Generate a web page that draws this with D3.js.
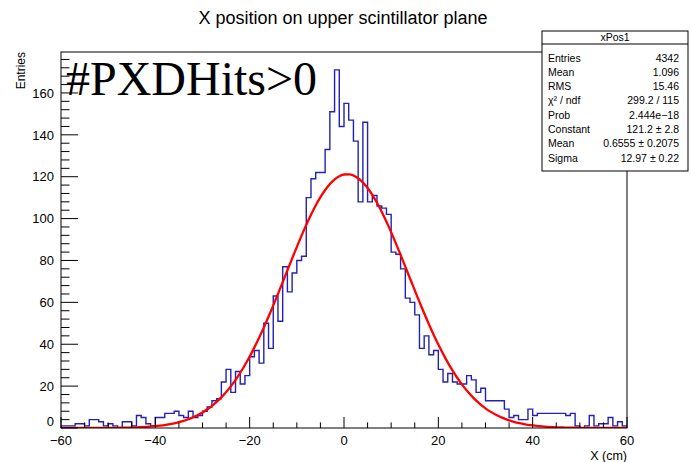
<!DOCTYPE html>
<html>
<head>
<meta charset="utf-8">
<script src="https://cdn.jsdelivr.net/npm/d3@7"></script>
<style>
  html, body { margin: 0; padding: 0; background: #fff; }
  svg { display: block; }
  text { font-family: "Liberation Sans", Arial, Helvetica, sans-serif; fill: #000; }
  text.serif { font-family: "Liberation Serif", "Times New Roman", serif; }
</style>
</head>
<body>
<svg id="chart" width="692" height="462"></svg>
<script>
// Histogram xPos1: 120 bins of 1 cm between -60 and 60 cm
const xRange = [-60, 60];
const nBins = 120;
const counts = [
  1, 1, 1, 2, 2, 1, 4, 4, 3, 1,      // -60 .. -51
  2, 1, 0, 3, 3, 1, 6, 5, 2, 1,      // -50 .. -41
  5, 5, 7, 7, 8, 6, 5, 8, 5, 6,      // -40 .. -31
  8, 10, 13, 14, 22, 28, 17, 27, 21, 25, // -30 .. -21
  34, 37, 31, 50, 38, 63, 51, 77, 65, 74, // -20 .. -11
  80, 82, 110, 119, 122, 122, 133, 151, 171, 144, // -10 .. -1
  155, 147, 137, 108, 146, 108, 111, 106, 105, 102, // 0 .. 9
  84, 83, 76, 62, 60, 54, 38, 44, 35, 37, // 10 .. 19
  28, 22, 26, 22, 21, 21, 25, 23, 17, 19, // 20 .. 29
  13, 13, 13, 13, 9, 5, 6, 4, 4, 9,  // 30 .. 39
  6, 7, 7, 7, 7, 7, 7, 6, 7, 1,      // 40 .. 49
  0, 1, 6, 1, 2, 2, 5, 1, 3, 1       // 50 .. 59
];

// Gaussian fit parameters (Constant, Mean, Sigma)
const fitConstant = [121.2];
const fitMean = [0.6555];
const fitSigma = [12.97];

// Statistics box rows
const statsLabels = ["Entries", "Mean", "RMS", "\u03C7\u00B2 / ndf", "Prob", "Constant", "Mean", "Sigma"];
const statsValues = ["4342", "1.096", "15.46", "299.2 / 115", "2.444e\u221218",
                     "121.2 \u00B1 2.8", "0.6555 \u00B1 0.2075", "12.97 \u00B1 0.22"];

const xTickValues = [-60, -40, -20, 0, 20, 40, 60];
const yTickValues = [0, 20, 40, 60, 80, 100, 120, 140, 160];

// Frame geometry
const frame = { left: 61, right: 627, top: 52, bottom: 428 };
const yMax = d3.max(counts) * 1.05;

const svg = d3.select("#chart");

const x = d3.scaleLinear().domain(xRange).range([frame.left, frame.right]);
const y = d3.scaleLinear().domain([0, yMax]).range([frame.bottom, frame.top]);

// Title
svg.append("text")
  .attr("x", 343).attr("y", 24)
  .attr("text-anchor", "middle")
  .attr("font-size", 18)
  .text("X position on upper scintillator plane");

// Clip for marks inside the frame
svg.append("defs").append("clipPath").attr("id", "frameClip")
  .append("rect")
  .attr("x", frame.left).attr("y", frame.top)
  .attr("width", frame.right - frame.left).attr("height", frame.bottom - frame.top);

// Histogram outline
const binWidth = (xRange[1] - xRange[0]) / nBins;
const histPts = [[xRange[0], 0]];
counts.forEach((c, i) => {
  const lo = xRange[0] + i * binWidth;
  histPts.push([lo, c], [lo + binWidth, c]);
});
histPts.push([xRange[1], 0]);

svg.append("path")
  .datum(histPts)
  .attr("clip-path", "url(#frameClip)")
  .attr("fill", "none")
  .attr("stroke", "#2222b0")
  .attr("stroke-width", 1.4)
  .attr("d", d3.line().x(d => x(d[0])).y(d => y(d[1])));

// Fitted gaussian, sampled at 100 points across the axis
const gaus = v => fitConstant[0] * Math.exp(-0.5 * Math.pow((v - fitMean[0]) / fitSigma[0], 2));
const fitPts = d3.range(0, 101).map(k => {
  const v = xRange[0] + k * (xRange[1] - xRange[0]) / 100;
  return [v, gaus(v)];
});
svg.append("path")
  .datum(fitPts)
  .attr("clip-path", "url(#frameClip)")
  .attr("fill", "none")
  .attr("stroke", "#ff0000")
  .attr("stroke-width", 2.3)
  .attr("stroke-linejoin", "round")
  .attr("d", d3.line().curve(d3.curveMonotoneX).x(d => x(d[0])).y(d => y(d[1])));

// Frame box
svg.append("rect")
  .attr("x", frame.left).attr("y", frame.top)
  .attr("width", frame.right - frame.left).attr("height", frame.bottom - frame.top)
  .attr("fill", "none").attr("stroke", "#000").attr("stroke-width", 1);

// X axis ticks (major every 20, minor every 5), drawn upward into the frame
const xMinor = d3.range(xRange[0], xRange[1] + 0.001, 5);
const xAxisG = svg.append("g");
xAxisG.selectAll("line").data(xMinor).enter().append("line")
  .attr("x1", d => x(d)).attr("x2", d => x(d))
  .attr("y1", frame.bottom).attr("y2", d => frame.bottom - (xTickValues.includes(d) ? 11 : 5.6))
  .attr("stroke", "#000").attr("stroke-width", 1);
xAxisG.selectAll("text").data(xTickValues).enter().append("text")
  .attr("x", d => x(d)).attr("y", 445)
  .attr("text-anchor", "middle")
  .attr("font-size", 13)
  .text(d => d < 0 ? "\u2212" + Math.abs(d) : String(d));

svg.append("text")
  .attr("x", frame.right).attr("y", 460)
  .attr("text-anchor", "end")
  .attr("font-size", 12.5)
  .text("X (cm)");

// Y axis ticks (major every 20, minor every 4), drawn rightward into the frame
const yMinor = d3.range(0, yMax, 4);
const yAxisG = svg.append("g");
yAxisG.selectAll("line").data(yMinor).enter().append("line")
  .attr("x1", frame.left).attr("x2", d => frame.left + (yTickValues.includes(d) ? 17 : 8.5))
  .attr("y1", d => y(d)).attr("y2", d => y(d))
  .attr("stroke", "#000").attr("stroke-width", 1);
// the zero label is lifted a little so it clears the x-axis labels
yAxisG.selectAll("text").data(yTickValues).enter().append("text")
  .attr("x", 54).attr("y", d => y(d) - (d === 0 ? 7 : 0))
  .attr("dy", "0.36em")
  .attr("text-anchor", "end")
  .attr("font-size", 13)
  .text(d => String(d));

svg.append("text")
  .attr("transform", `translate(25, ${frame.top}) rotate(-90)`)
  .attr("text-anchor", "end")
  .attr("font-size", 12)
  .text("Entries");

// Selection label
svg.append("text")
  .attr("class", "serif")
  .attr("x", 66).attr("y", 95)
  .attr("font-size", 48)
  .text("#PXDHits>0");

// Statistics box
const sb = { x: 542, y: 31, w: 146, h: 140, header: 13 };
const statsG = svg.append("g");
statsG.append("rect")
  .attr("x", sb.x).attr("y", sb.y).attr("width", sb.w).attr("height", sb.h)
  .attr("fill", "#fff").attr("stroke", "#000").attr("stroke-width", 1);
statsG.append("line")
  .attr("x1", sb.x).attr("x2", sb.x + sb.w)
  .attr("y1", sb.y + sb.header).attr("y2", sb.y + sb.header)
  .attr("stroke", "#000").attr("stroke-width", 1);
statsG.append("text")
  .attr("x", sb.x + sb.w / 2).attr("y", sb.y + 10)
  .attr("text-anchor", "middle").attr("font-size", 10.5)
  .text("xPos1");
const rowY = i => sb.y + 27 + i * 14.3 + 3.5;
statsG.selectAll("text.lab").data(statsLabels).enter().append("text")
  .attr("class", "lab")
  .attr("x", sb.x + 6).attr("y", (d, i) => rowY(i))
  .attr("font-size", 10.5)
  .text(d => d);
statsG.selectAll("text.val").data(statsValues).enter().append("text")
  .attr("class", "val")
  .attr("x", sb.x + sb.w - 9).attr("y", (d, i) => rowY(i))
  .attr("text-anchor", "end")
  .attr("font-size", 10.5)
  .text(d => d);
</script>
</body>
</html>
